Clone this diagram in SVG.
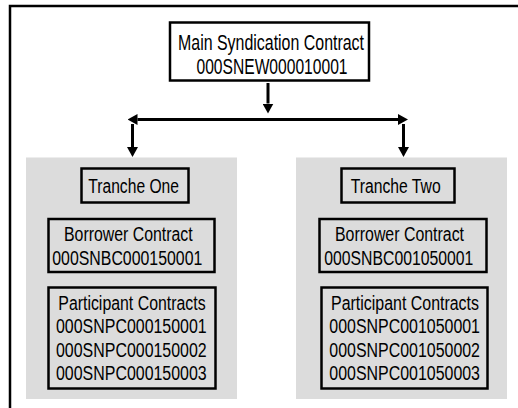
<svg xmlns="http://www.w3.org/2000/svg" width="518" height="408" viewBox="0 0 518 408">
<defs>
<style>
.frame{fill:none;stroke:#000;stroke-width:2.5}
.panel{fill:#dcdcdc;stroke:none}
.box{fill:#dcdcdc;stroke:#000;stroke-width:2.5}
.main{fill:#fff;stroke:#000;stroke-width:2.5}
.conn{fill:none;stroke:#000;stroke-width:3}
text{font-family:"Liberation Sans",Arial,sans-serif;fill:#000}
.t{font-size:19.5px}
.tm{font-size:22px}
</style>
<marker id="ah" viewBox="0 0 10 11" refX="0" refY="5.5" markerWidth="10" markerHeight="11" markerUnits="userSpaceOnUse" orient="auto-start-reverse">
<path d="M0,0 L10,5.5 L0,11 z" fill="#000"/>
</marker>
</defs>
<path class="frame" d="M10,420 V6 H540"/>
<rect id="panel-one" class="panel" x="26" y="157.5" width="211" height="241.5"/>
<rect id="panel-two" class="panel" x="296" y="157.5" width="211" height="241.5"/>
<g id="connectors">
<path class="conn" d="M268,83 V103.5" marker-end="url(#ah)"/>
<path class="conn" d="M137.5,119.5 H398" marker-start="url(#ah)" marker-end="url(#ah)"/>
<path class="conn" d="M132.5,124 V147" marker-end="url(#ah)"/>
<path class="conn" d="M403.5,124 V147" marker-end="url(#ah)"/>
</g>
<g id="main-contract">
<rect class="main" x="170" y="22.5" width="199" height="58"/>
<text class="tm" x="178" y="49.5" textLength="186" lengthAdjust="spacingAndGlyphs">Main Syndication Contract</text>
<text class="tm" x="196.5" y="74" textLength="151" lengthAdjust="spacingAndGlyphs">000SNEW000010001</text>
</g>
<g id="tranche-one">
<rect class="box" x="81.5" y="168.5" width="107" height="34"/>
<text class="t" x="88.3" y="193.3" textLength="90.7" lengthAdjust="spacingAndGlyphs">Tranche One</text>
</g>
<g id="tranche-two">
<rect class="box" x="341.5" y="168.5" width="113" height="34"/>
<text class="t" x="350.7" y="193.3" textLength="90" lengthAdjust="spacingAndGlyphs">Tranche Two</text>
</g>
<g id="borrower-one">
<rect class="box" x="48.5" y="219" width="166" height="53"/>
<text class="t" x="64" y="240.7" textLength="128.7" lengthAdjust="spacingAndGlyphs">Borrower Contract</text>
<text class="t" x="52.3" y="265" textLength="150" lengthAdjust="spacingAndGlyphs">000SNBC000150001</text>
</g>
<g id="borrower-two">
<rect class="box" x="319.5" y="219" width="167" height="53"/>
<text class="t" x="335" y="240.7" textLength="129" lengthAdjust="spacingAndGlyphs">Borrower Contract</text>
<text class="t" x="324.3" y="265" textLength="149" lengthAdjust="spacingAndGlyphs">000SNBC001050001</text>
</g>
<g id="participants-one">
<rect class="box" x="48.5" y="287.5" width="167" height="101"/>
<text class="t" x="58.3" y="310" textLength="147.3" lengthAdjust="spacingAndGlyphs">Participant Contracts</text>
<text class="t" x="56" y="333.3" textLength="150.7" lengthAdjust="spacingAndGlyphs">000SNPC000150001</text>
<text class="t" x="56" y="356.7" textLength="150.7" lengthAdjust="spacingAndGlyphs">000SNPC000150002</text>
<text class="t" x="56" y="380" textLength="150.7" lengthAdjust="spacingAndGlyphs">000SNPC000150003</text>
</g>
<g id="participants-two">
<rect class="box" x="321.5" y="287.5" width="166" height="101"/>
<text class="t" x="331" y="310" textLength="148" lengthAdjust="spacingAndGlyphs">Participant Contracts</text>
<text class="t" x="329.3" y="333.3" textLength="150.7" lengthAdjust="spacingAndGlyphs">000SNPC001050001</text>
<text class="t" x="329.3" y="356.7" textLength="150.7" lengthAdjust="spacingAndGlyphs">000SNPC001050002</text>
<text class="t" x="329.3" y="380" textLength="150.7" lengthAdjust="spacingAndGlyphs">000SNPC001050003</text>
</g>
</svg>
